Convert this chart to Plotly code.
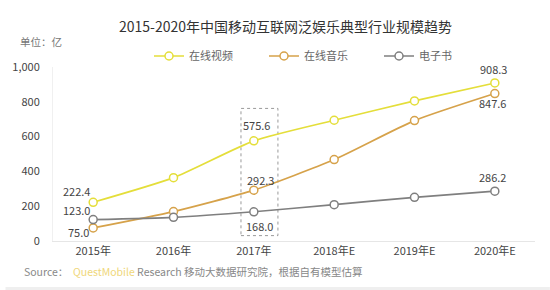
import plotly.graph_objects as go

years = ["2015年", "2016年", "2017年", "2018年E", "2019年E", "2020年E"]
video = [222.4, 364, 575.6, 694, 805, 908.3]
music = [75.0, 169, 292.3, 468, 692, 847.6]
ebook = [123.0, 136, 168.0, 209, 251, 286.2]
names = ["在线视频", "在线音乐", "电子书"]
colors = ["#E4DE3A", "#D6A24A", "#7F7F7F"]
y_ticks = [0, 200, 400, 600, 800, 1000]

# label offsets (px) for the labelled points: index -> (dx, dy) per series
label_idx = [0, 2, 5]
offsets = [
    {0: (-17, 11), 2: (3, 16), 5: (-1, 14)},
    {0: (-15, -4), 2: (7, 10), 5: (-2, -9)},
    {0: (-17, 10), 2: (6, -14), 5: (-2, 14)},
]

FONT = "Noto Sans CJK SC, Microsoft YaHei, sans-serif"
fig = go.Figure()
series = [video, music, ebook]
for name, vals, col in zip(names, series, colors):
    fig.add_trace(go.Scatter(
        x=years, y=vals, name=name, mode="lines+markers",
        line=dict(color=col, width=1.7, shape="spline", smoothing=0.6),
        marker=dict(size=8, color="white", line=dict(color=col, width=1.5)),
        hoverinfo="skip",
    ))

annotations = []
for s, vals in enumerate(series):
    for i in label_idx:
        dx, dy = offsets[s][i]
        annotations.append(dict(
            x=years[i], y=vals[i], xref="x", yref="y", text=f"{vals[i]:.1f}",
            showarrow=False, xshift=dx, yshift=dy,
            font=dict(size=11, color="#444", family=FONT)))

W, H = 550, 290
L, R, T, B = 48, 15, 67, 49
pw, ph = W - L - R, H - T - B

def px(x):
    return (x - L) / pw

def py(y):
    return (H - B - y) / ph

annotations.append(dict(x=px(283), y=py(26), xref="paper", yref="paper",
                        text="2015-2020年中国移动互联网泛娱乐典型行业规模趋势",
                        showarrow=False, xanchor="center", yanchor="middle",
                        font=dict(size=14, color="#333", family=FONT)))
annotations.append(dict(x=px(13), y=py(42), xref="paper", yref="paper",
                        text="单位：亿", showarrow=False, xanchor="left", yanchor="middle",
                        font=dict(size=10.5, color="#777", family=FONT)))
annotations.append(dict(x=px(17), y=py(271), xref="paper", yref="paper",
                        text="Source：  <span style='color:#EFD77A'>QuestMobile</span> Research 移动大数据研究院，根据自有模型估算",
                        showarrow=False, xanchor="left", yanchor="middle",
                        font=dict(size=10.5, color="#888", family=FONT)))

hi = years.index("2017年")
shapes = [
    dict(type="rect", xref="x", yref="y", x0=hi - 0.16, x1=hi + 0.30, y0=31, y1=762,
         line=dict(color="#999", width=1, dash="dot"), fillcolor="rgba(0,0,0,0)", layer="below"),
    dict(type="rect", xref="paper", yref="paper", x0=px(0), x1=px(W), y0=py(290), y1=py(287),
         line=dict(width=0), fillcolor="#EFEFEF"),
]

fig.update_layout(
    width=W, height=H, margin=dict(l=L, r=R, t=T, b=B),
    paper_bgcolor="white", plot_bgcolor="white",
    font=dict(family=FONT, size=11, color="#555"),
    showlegend=True,
    legend=dict(orientation="h", x=px(145), y=py(56), xanchor="left", yanchor="middle",
                font=dict(size=11, color="#666", family=FONT),
                itemwidth=30, entrywidth=70, entrywidthmode="pixels",
                bgcolor="rgba(0,0,0,0)"),
    xaxis=dict(type="category", range=[-0.5, 5.5], showgrid=False, showline=True,
               linecolor="#E6E6E6", linewidth=1, ticks="", tickfont=dict(size=11, color="#444")),
    yaxis=dict(range=[0, 1000], tickvals=y_ticks, tickformat=",", showgrid=False,
               zeroline=False, showline=True, linecolor="#F0F0F0", ticks="",
               ticklabelstandoff=10, tickfont=dict(size=11, color="#444")),
    annotations=annotations, shapes=shapes,
)
fig.write_html("out.html")
